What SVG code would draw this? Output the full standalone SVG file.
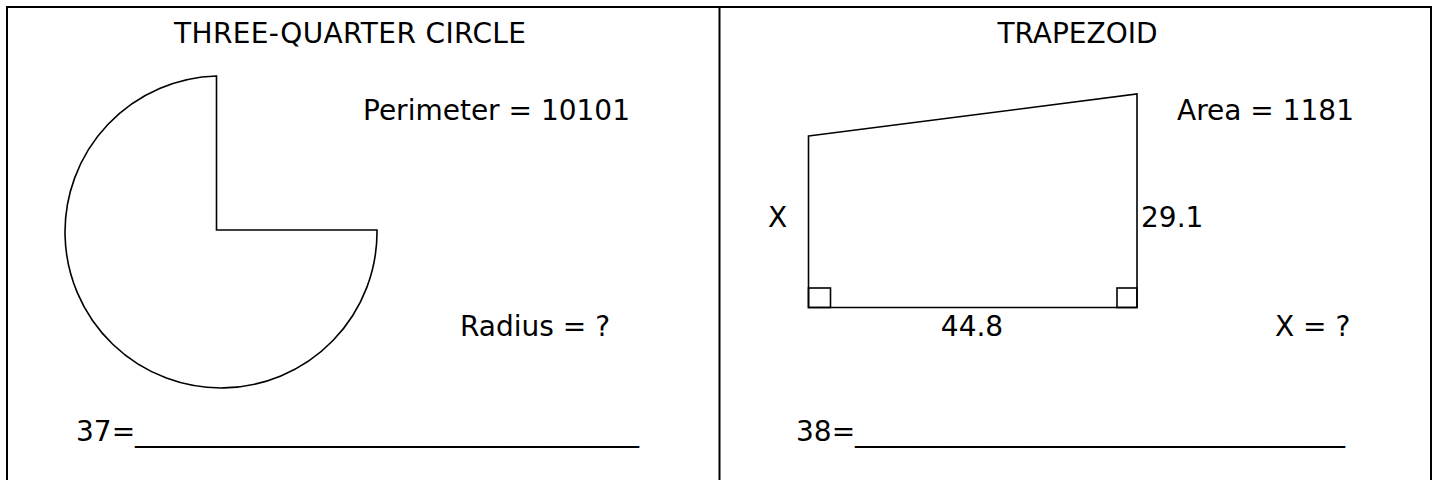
<svg xmlns="http://www.w3.org/2000/svg" width="1440" height="480" viewBox="0 0 1440 480">
<style>
  text { font-family: "DejaVu Sans", Verdana, sans-serif; font-size: 28px; fill: #000; }
  .ln { fill: none; stroke: #000; stroke-width: 1.6; }
  .frame { fill: none; stroke: #000; stroke-width: 2; }
</style>
<rect width="1440" height="480" fill="#fff"/>
<g id="frame">
  <rect class="frame" x="7" y="7" width="1424" height="500"/>
  <line class="frame" x1="719.5" y1="7" x2="719.5" y2="480"/>
</g>
<g id="circle-panel">
  <text x="350" y="43" text-anchor="middle" textLength="352">THREE-QUARTER CIRCLE</text>
  <path class="ln" d="M 216.5 76 A 156 156 0 1 0 377 230 L 216.5 230 Z"/>
  <text x="363" y="120">Perimeter = 10101</text>
  <text x="460" y="336">Radius = ?</text>
  <text x="76" y="441">37=____________________________________</text>
</g>
<g id="trapezoid-panel">
  <text x="1077.5" y="43" text-anchor="middle">TRAPEZOID</text>
  <polygon class="ln" points="808.5,136 1137,94 1137,307.5 808.5,307.5"/>
  <rect class="ln" x="808.5" y="288" width="22" height="19.5"/>
  <rect class="ln" x="1117" y="288" width="20" height="19.5"/>
  <text x="1177" y="120">Area = 1181</text>
  <text x="768" y="227">X</text>
  <text x="1141" y="227">29.1</text>
  <text x="972" y="336" text-anchor="middle">44.8</text>
  <text x="1275" y="336">X = ?</text>
  <text x="796" y="441">38=___________________________________</text>
</g>
</svg>
